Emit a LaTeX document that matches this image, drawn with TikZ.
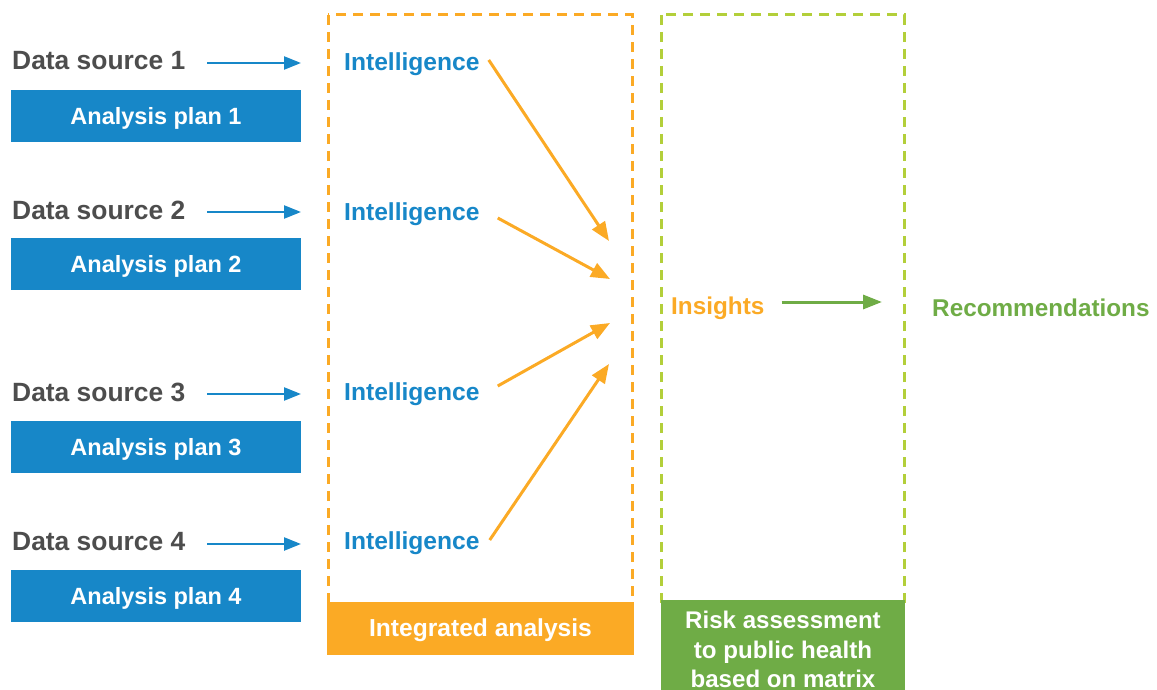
\documentclass[tikz,border=0pt]{standalone}
\usepackage{fontspec}
\setmainfont{Liberation Sans}
\usetikzlibrary{arrows.meta}
\definecolor{cblue}{HTML}{1787C8}
\definecolor{cgray}{HTML}{4D4D4D}
\definecolor{corange}{HTML}{FBAA25}
\definecolor{cgreen}{HTML}{6FAC46}
\definecolor{cdash}{HTML}{B3CF3A}
\tikzset{
  srclabel/.style={anchor=west,text=cgray,font=\fontsize{26.4}{30}\selectfont\bfseries,inner sep=0pt},
  planbox/.style={fill=cblue,text=white,minimum width=290pt,minimum height=52pt,inner sep=0pt,font=\fontsize{23.5}{28}\selectfont\bfseries},
  intel/.style={anchor=west,text=cblue,font=\fontsize{24.6}{28}\selectfont\bfseries,inner sep=0pt},
  bluearrow/.style={draw=cblue,line width=2.4pt,-{Triangle[length=17pt,width=13pt]}},
  orangearrow/.style={draw=corange,line width=3pt,-{Triangle[length=19pt,width=15pt]}},
  greenarrow/.style={draw=cgreen,line width=3pt,-{Triangle[length=19pt,width=14pt]}},
  dashbox/.style={line width=3pt,dash pattern=on 10pt off 7pt},
}
\begin{document}
\begin{tikzpicture}[x=1pt,y=-1pt]
\useasboundingbox (0,0) rectangle (1157,690);
% dashed boxes
\draw[dashbox,draw=corange] (328,15) rectangle (632,604);
\draw[dashbox,draw=cdash] (661,15) rectangle (904,604);
\node[fill=corange,minimum width=307pt,minimum height=53pt,inner sep=0pt] (ia) at (480.5,628.5) {};
\node[text=white,inner sep=0pt,font=\fontsize{24.6}{28}\selectfont\bfseries] (iatext) at (480.5,630) {Integrated analysis};
\node[fill=cgreen,anchor=north,minimum width=244pt,minimum height=100pt,inner sep=0pt] (ra) at (783,600) {};
\node[text=white,align=center,font=\fontsize{24.1}{29.5}\selectfont\bfseries,inner sep=0pt,anchor=north] (ratext) at (783,611) {Risk assessment\\to public health\\based on matrix};
% sources
\foreach \i/\y/\by in {1/60/116,2/209/264,3/391/447,4/541/596}{
  \node[srclabel] (ds\i) at (12,\y+1) {Data source \i};
  \coordinate (as\i) at (207,\y+3);
  \coordinate (ae\i) at (301,\y+3);
  \draw[bluearrow] (as\i) -- (ae\i);
  \node[planbox] (ap\i) at (156,\by) {};
  \node[text=white,inner sep=0pt,font=\fontsize{23.5}{28}\selectfont\bfseries] (apt\i) at (156,\by+2) {Analysis plan \i};
}
\node[intel] (in1) at (344,64) {Intelligence};
\node[intel] (in2) at (344,214) {Intelligence};
\node[intel] (in3) at (344,394) {Intelligence};
\node[intel] (in4) at (344,543) {Intelligence};
\coordinate (t1) at (609,241);
\coordinate (t2) at (610,279);
\coordinate (t3) at (610,323);
\coordinate (t4) at (609,364);
\draw[orangearrow] ([xshift=9pt,yshift=4pt]in1.east) -- (t1);
\draw[orangearrow] ([xshift=18pt,yshift=-4pt]in2.east) -- (t2);
\draw[orangearrow] ([xshift=18pt,yshift=8pt]in3.east) -- (t3);
\draw[orangearrow] ([xshift=10pt,yshift=3pt]in4.east) -- (t4);
\node[anchor=west,text=corange,font=\fontsize{24.3}{28}\selectfont\bfseries,inner sep=0pt] (ins) at (671,308) {Insights};
\node[anchor=west,text=cgreen,font=\fontsize{24.3}{28}\selectfont\bfseries,inner sep=0pt] (rec) at (932,308) {Recommendations};
\draw[greenarrow] ([xshift=17pt,yshift=6pt]ins.east) -- ([xshift=-50pt,yshift=6pt]rec.west);
\end{tikzpicture}
\end{document}
